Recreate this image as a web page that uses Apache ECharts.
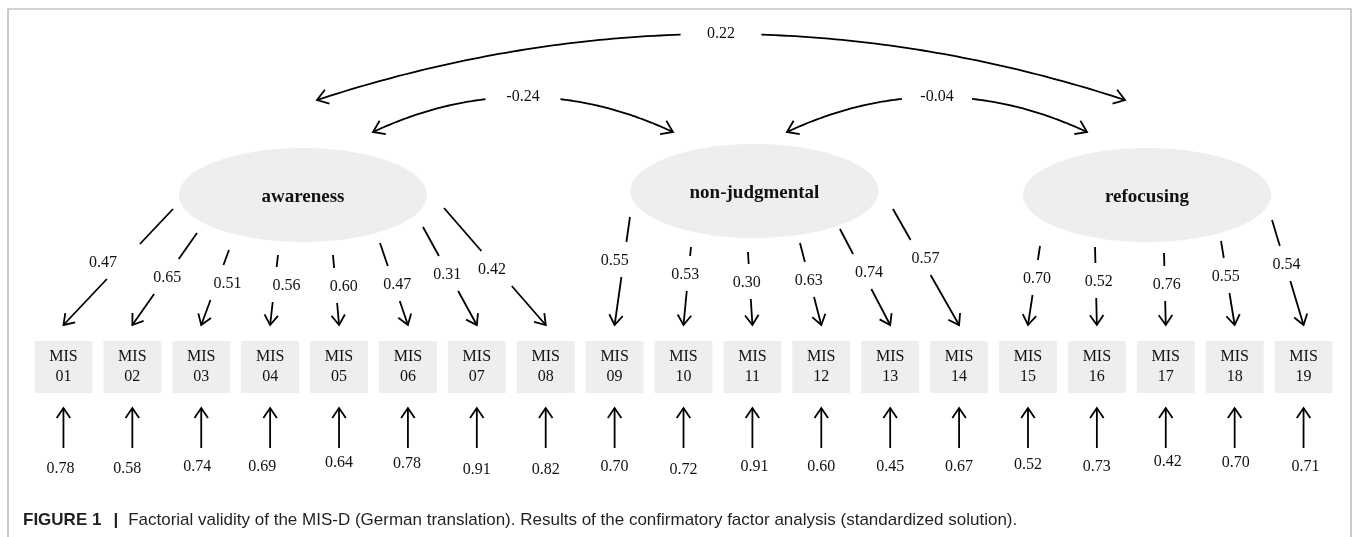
<!DOCTYPE html>
<html><head><meta charset="utf-8">
<script src="https://cdn.jsdelivr.net/npm/echarts@6/dist/echarts.min.js"></script>
<style>html,body{margin:0;padding:0;background:#fff}#c{width:1356px;height:537px}</style>
</head><body><div id="c"></div>
<script>
// ---------------- DATA ----------------
const indicators = ['01','02','03','04','05','06','07','08','09','10','11','12','13','14','15','16','17','18','19'];
const factors = ['awareness','non-judgmental','refocusing'];
const indicatorFactor = [0,0,0,0,0,0,0,0,1,1,1,1,1,1,2,2,2,2,2];
const loadings = [0.47,0.65,0.51,0.56,0.60,0.47,0.31,0.42,0.55,0.53,0.30,0.63,0.74,0.57,0.70,0.52,0.76,0.55,0.54];
const residuals = [0.78,0.58,0.74,0.69,0.64,0.78,0.91,0.82,0.70,0.72,0.91,0.60,0.45,0.67,0.52,0.73,0.42,0.70,0.71];
const corrPairs = [[0,1],[1,2],[0,2]];
const corrValues = [-0.24,-0.04,0.22];
const captionLabel = 'FIGURE 1';
const captionText = 'Factorial validity of the MIS-D (German translation). Results of the confirmatory factor analysis (standardized solution).';

// ---------------- LAYOUT ----------------
const L = {
  factorSlot: [3.477, 10.03, 15.728],
  factorY: [195, 191, 195],
  ellRx: 124, ellRy: 47,
  boxY: 367, boxW: 58, boxH: 52,
  loadTipY: 325,
  loadStart: [[-130,14],[-106,38],[-74,55],[-25,60],[30,60],[77,48],[120,32],[141,13],
              [-124.5,26],[-63.5,56],[-6.5,61],[45.5,52],[85.5,38],[138.5,18],
              [-107,51],[-52,52],[17,58],[74,46],[125,25]],
  loadLabelY: [263,278,284,286,287,285,275,270, 261,275,283,281,273,259, 279,282,285,277,265],
  loadLabelDx: [-19,2,11,12,8,3,-2,-6, -9,-3,-3,-1,6,4, 2,3,2,-1,1],
  gapAbove: 19, gapBelow: 16,
  residTop: 408, residBottom: 448, residLabelY: 467,
  residLabelDy: [2,2,0,0,-4,-3,3,3,0,3,0,0,0,0,-2,0,-5,-4,0],
  residLabelDx: [-3,-5,-4,-8,0,-1,0,0,0,0,2,0,0,0,0,0,2,1,2],
  corrTipY: [132,132,100], corrPeakY: [97,97,34],
  corrTipDx: [[70,-81.5],[32.5,-60],[14,-22]], corrGap: 35
};
const INK = '#000';
const LW = 1.8;
const NUM_FONT = '16px "Liberation Serif"';

function head(tip, from, len, ang) {
  len = len || 12; ang = ang || 0.6;
  const dx = from[0]-tip[0], dy = from[1]-tip[1], d = Math.hypot(dx,dy);
  const ux = dx/d, uy = dy/d, c = Math.cos(ang), s = Math.sin(ang);
  const w1 = [tip[0]+len*(ux*c-uy*s), tip[1]+len*(ux*s+uy*c)];
  const w2 = [tip[0]+len*(ux*c+uy*s), tip[1]+len*(-ux*s+uy*c)];
  return {type:'polyline', shape:{points:[w1,tip,w2]}, style:{stroke:INK, lineWidth:LW, fill:null, lineJoin:'miter'}};
}
function seg(a,b){return {type:'line', shape:{x1:a[0],y1:a[1],x2:b[0],y2:b[1]}, style:{stroke:INK, lineWidth:LW}};}
function txt(t,x,y,font){return {type:'text', style:{text:t, x:x, y:y, align:'center', verticalAlign:'middle', font:font||NUM_FONT, fill:'#111'}};}

const chart = echarts.init(document.getElementById('c'), null, {renderer:'canvas'});
chart.setOption({
  animation:false,
  backgroundColor:'#fff',
  title:{
    left:18, top:507,
    text:'{b|'+captionLabel+'}{p||}{t|'+captionText+'}',
    textStyle:{fontWeight:'normal', rich:{
      b:{fontFamily:'"Liberation Sans"', fontWeight:'bold', fontSize:17, color:'#231f20'},
      p:{fontFamily:'"Liberation Sans"', fontWeight:'bold', fontSize:17, color:'#231f20', padding:[0,10,0,12]},
      t:{fontFamily:'"Liberation Sans"', fontWeight:'normal', fontSize:17, color:'#231f20'}
    }}
  },
  graphic:[{type:'rect', shape:{x:8,y:9,width:1343,height:600}, style:{fill:null, stroke:'#a8a8a8', lineWidth:1.2}, silent:true}],
  grid:{left:29, right:18, top:0, bottom:0},
  xAxis:{type:'value', min:-0.5, max:18.5, show:false},
  yAxis:{type:'value', min:0, max:537, inverse:true, show:false},
  series:[
    { // latent factors
      type:'custom', coordinateSystem:'cartesian2d',
      data: factors.map((n,f)=>[L.factorSlot[f], L.factorY[f]]),
      renderItem:(p,api)=>{
        const c = api.coord([api.value(0), api.value(1)]);
        return {type:'group', children:[
          {type:'ellipse', shape:{cx:c[0], cy:c[1], rx:L.ellRx, ry:L.ellRy}, style:{fill:'#eeeeee'}},
          txt(factors[p.dataIndex], c[0], c[1]+2, 'bold 19px "Liberation Serif"')
        ]};
      }
    },
    { // indicator boxes
      type:'custom', coordinateSystem:'cartesian2d',
      data: indicators.map((code,i)=>[i, L.boxY]),
      renderItem:(p,api)=>{
        const c = api.coord([api.value(0), api.value(1)]);
        return {type:'group', children:[
          {type:'rect', shape:{x:c[0]-L.boxW/2, y:c[1]-L.boxH/2, width:L.boxW, height:L.boxH}, style:{fill:'#eeeeee'}},
          {type:'text', style:{text:'MIS\n'+indicators[p.dataIndex], x:c[0], y:c[1], align:'center', verticalAlign:'middle', font:'16px "Liberation Serif"', lineHeight:20, fill:'#111'}}
        ]};
      }
    },
    { // loadings
      type:'custom', coordinateSystem:'cartesian2d',
      data: loadings.map((v,i)=>[i, v]),
      renderItem:(p,api)=>{
        const i = p.dataIndex, v = api.value(1), f = indicatorFactor[i];
        const c = api.coord([L.factorSlot[f], L.factorY[f]]);
        const s = [c[0]+L.loadStart[i][0], c[1]+L.loadStart[i][1]];
        const e = api.coord([api.value(0), L.loadTipY]);
        const ly = api.coord([0, L.loadLabelY[i]])[1];
        const xAt = y => s[0] + (e[0]-s[0])*(y-s[1])/(e[1]-s[1]);
        const y1 = ly - L.gapAbove, y2 = ly + L.gapBelow;
        return {type:'group', children:[
          seg(s, [xAt(y1), y1]),
          seg([xAt(y2), y2], e),
          head(e, [xAt(y2), y2]),
          txt(v.toFixed(2), xAt(ly)+L.loadLabelDx[i], ly)
        ]};
      }
    },
    { // residuals
      type:'custom', coordinateSystem:'cartesian2d',
      data: residuals.map((v,i)=>[i, v]),
      renderItem:(p,api)=>{
        const i = p.dataIndex;
        const top = api.coord([api.value(0), L.residTop]);
        const bot = api.coord([api.value(0), L.residBottom]);
        const lab = api.coord([api.value(0), L.residLabelY + L.residLabelDy[i]]);
        return {type:'group', children:[
          seg(bot, top), head(top, bot),
          txt(api.value(1).toFixed(2), lab[0] + L.residLabelDx[i], lab[1])
        ]};
      }
    },
    { // factor correlations
      type:'custom', coordinateSystem:'cartesian2d',
      data: corrValues.map((v,k)=>[k, v]),
      renderItem:(p,api)=>{
        const k = p.dataIndex, v = api.value(1);
        const a = corrPairs[k][0], b = corrPairs[k][1];
        const ca = api.coord([L.factorSlot[a], L.corrTipY[k]]);
        const cb = api.coord([L.factorSlot[b], L.corrTipY[k]]);
        const P0 = [ca[0]+L.corrTipDx[k][0], ca[1]];
        const P2 = [cb[0]+L.corrTipDx[k][1], cb[1]];
        const xm = (P0[0]+P2[0])/2;
        const peak = api.coord([0, L.corrPeakY[k]])[1];
        const P1 = [xm, 2*peak - P0[1]];
        const pt = t => [(1-t)*(1-t)*P0[0]+2*(1-t)*t*P1[0]+t*t*P2[0], (1-t)*(1-t)*P0[1]+2*(1-t)*t*P1[1]+t*t*P2[1]];
        const left = [], right = [];
        const N = 120;
        for (let j=0;j<=N;j++){
          const q = pt(j/N);
          if (q[0] < xm - L.corrGap) left.push(q);
          else if (q[0] > xm + L.corrGap) right.push(q);
        }
        return {type:'group', children:[
          {type:'polyline', shape:{points:left}, style:{stroke:INK, lineWidth:LW, fill:null}},
          {type:'polyline', shape:{points:right}, style:{stroke:INK, lineWidth:LW, fill:null}},
          head(P0, P1, 13), head(P2, P1, 13),
          txt(v.toFixed(2), xm, peak)
        ]};
      }
    }
  ]
});
</script></body></html>
